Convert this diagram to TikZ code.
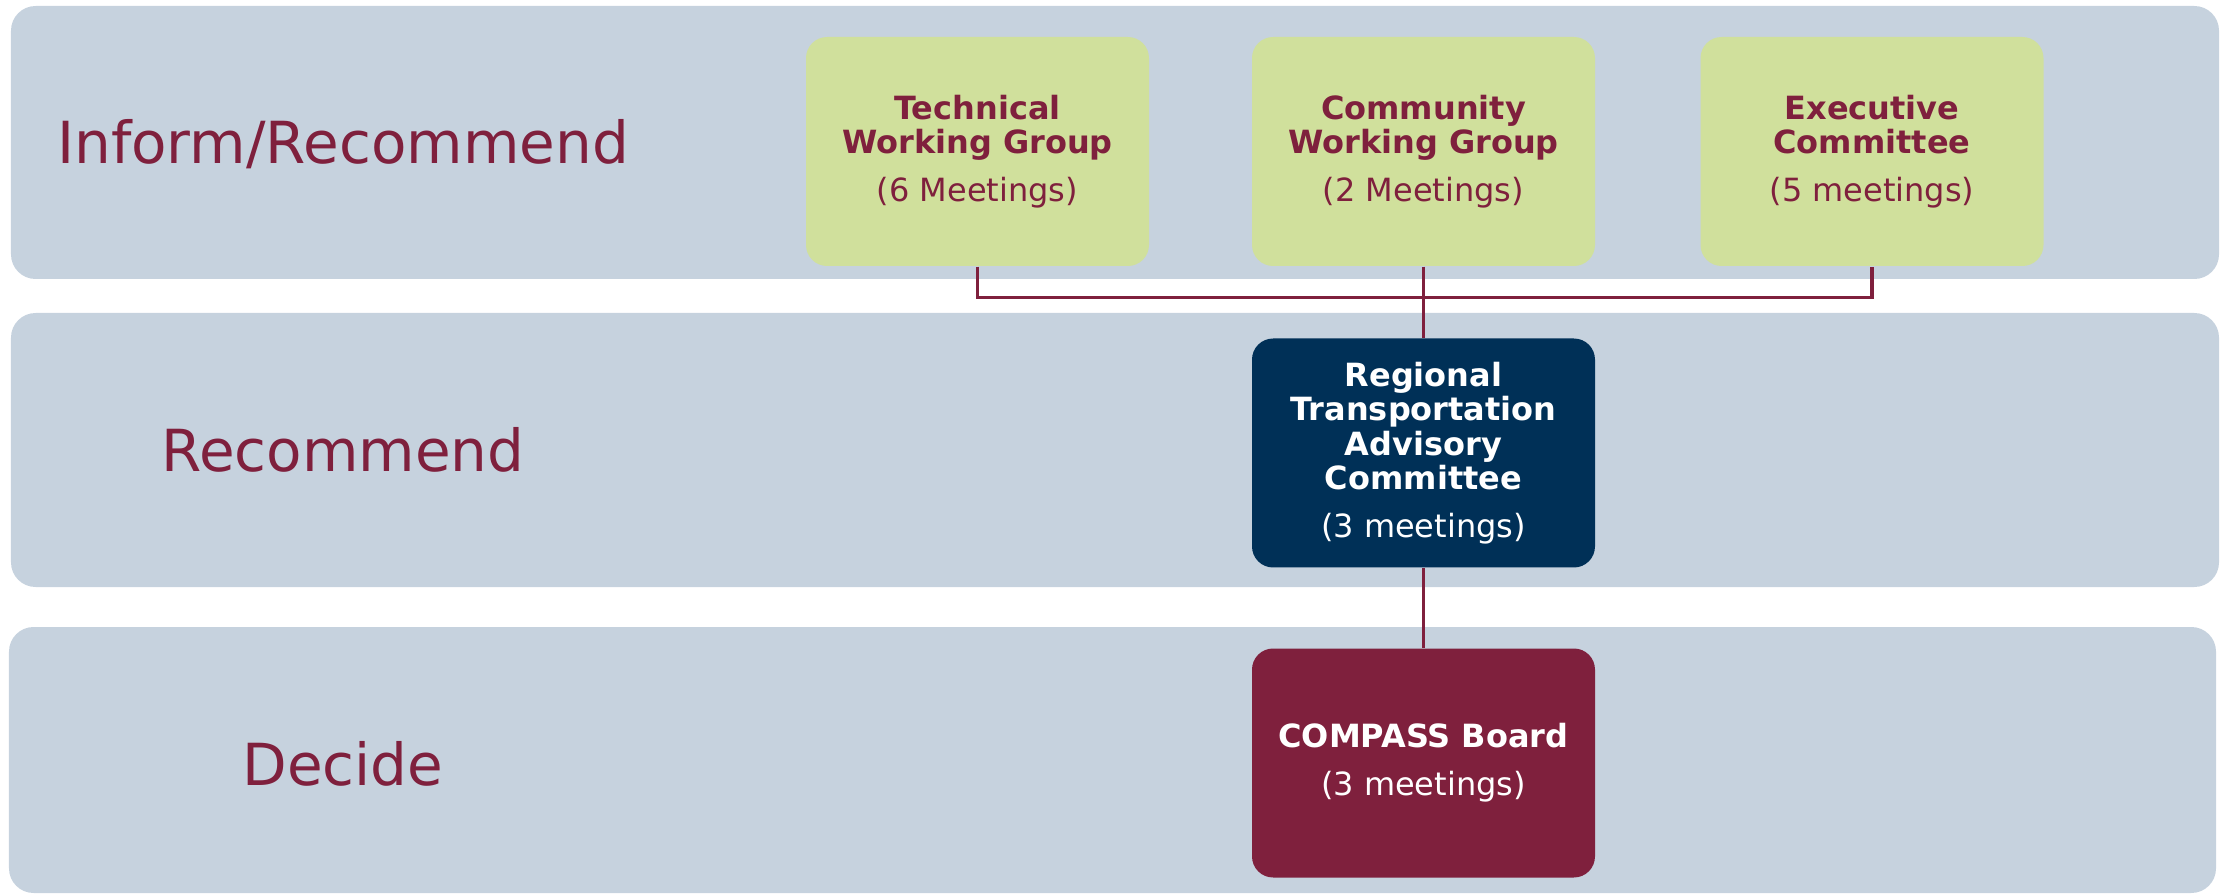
\documentclass[tikz,border=0pt]{standalone}
\usepackage{fontspec}
\setmainfont{DejaVu Sans}
\definecolor{bandgray}{HTML}{C6D2DE}
\definecolor{leafgreen}{HTML}{D0E09C}
\definecolor{wine}{HTML}{7F203D}
\definecolor{navy}{HTML}{003057}
\begin{document}
\begin{tikzpicture}[x=1cm, y=-1cm,
    band/.style={
        rectangle,
        rounded corners=7pt,
        fill=bandgray,
        inner sep=0pt
    },
    level/.style={
        font=\fontsize{16.5}{20}\selectfont,
        text=wine,
        anchor=base
    },
    panel/.style={
        rectangle,
        rounded corners=6pt,
        minimum width=3.43cm,
        minimum height=2.29cm,
        inner sep=0pt,
        align=center,
        font=\fontsize{9.1}{9.8}\selectfont
    },
    link/.style={
        draw=wine,
        line width=1pt
    }
]
\useasboundingbox (0,0) rectangle (22.33,8.95);

% Bands
\node[band, minimum width=22.08cm, minimum height=2.73cm] (informband) at (11.15,1.425) {};
\node[band, minimum width=22.08cm, minimum height=2.74cm] (recband) at (11.15,4.50) {};
\node[band, minimum width=22.07cm, minimum height=2.66cm] (decband) at (11.125,7.60) {};

% Band labels
\node[level] (inform) at (3.43,1.64) {Inform/Recommend};
\node[level] (recommend) at (3.43,4.71) {Recommend};
\node[level] (decide) at (3.43,7.85) {Decide};

% Committees
\node[panel, fill=leafgreen, text=wine] (tech) at (9.775,1.515)
    {\textbf{Technical}\\\textbf{Working Group}\\[3.8pt](6 Meetings)};
\node[panel, fill=leafgreen, text=wine] (comm) at (14.235,1.515)
    {\textbf{Community}\\\textbf{Working Group}\\[3.8pt](2 Meetings)};
\node[panel, fill=leafgreen, text=wine] (exec) at (18.72,1.515)
    {\textbf{Executive}\\\textbf{Committee}\\[3.8pt](5 meetings)};
\node[panel, fill=navy, text=white] (rtac) at (14.235,4.53)
    {\textbf{Regional}\\\textbf{Transportation}\\\textbf{Advisory}\\\textbf{Committee}\\[3.8pt](3 meetings)};
\node[panel, fill=wine, text=white] (board) at (14.235,7.63)
    {\textbf{COMPASS Board}\\[3.8pt](3 meetings)};

% Links
\draw[link] (tech.south) -- ++(0,0.31) coordinate (bus) -| (exec.south);
\draw[link] (comm.south) -- (rtac.north);
\draw[link] (rtac.south) -- (board.north);

\end{tikzpicture}
\end{document}
